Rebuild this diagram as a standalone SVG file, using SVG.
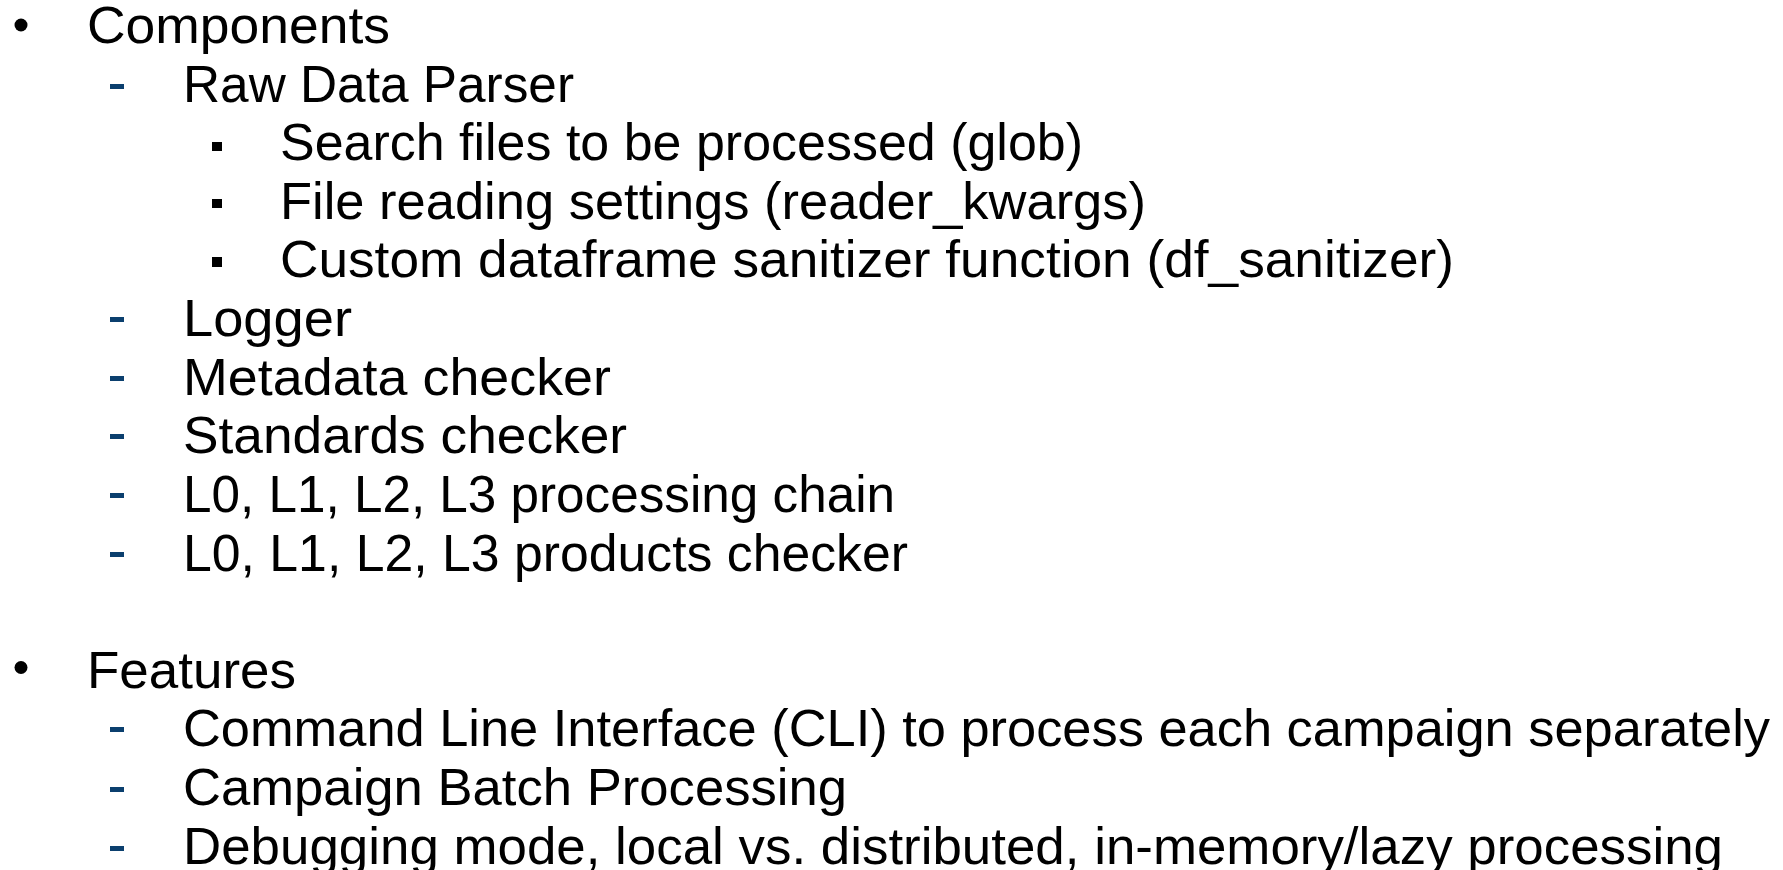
<svg xmlns="http://www.w3.org/2000/svg" width="1783" height="870" viewBox="0 0 1783 870">
<style>
text{font-family:"Liberation Sans","Open Sans",sans-serif;font-size:52px;fill:#000}
.dash{fill:#0b3f6e}
.sq{fill:#000}
</style>
<rect width="1783" height="870" fill="#fff"/>
<g id="components">
<circle cx="21" cy="25" r="6.5"/>
<text x="87" y="43" textLength="303" lengthAdjust="spacingAndGlyphs">Components</text>
</g>
<g id="raw-data-parser">
<rect class="dash" x="110" y="84" width="14" height="5"/>
<text x="183" y="101.5" textLength="391" lengthAdjust="spacingAndGlyphs">Raw Data Parser</text>
</g>
<g id="search-files">
<rect class="sq" x="212" y="142" width="10" height="9"/>
<text x="280" y="160" textLength="803" lengthAdjust="spacingAndGlyphs">Search files to be processed (glob)</text>
</g>
<g id="file-reading">
<rect class="sq" x="212" y="199" width="10" height="9"/>
<text x="280" y="218.5" textLength="866" lengthAdjust="spacingAndGlyphs">File reading settings (reader_kwargs)</text>
</g>
<g id="custom-sanitizer">
<rect class="sq" x="212" y="257" width="10" height="10"/>
<text x="280" y="277" textLength="1174" lengthAdjust="spacingAndGlyphs">Custom dataframe sanitizer function (df_sanitizer)</text>
</g>
<g id="logger">
<rect class="dash" x="110" y="317" width="14" height="5"/>
<text x="183" y="336" textLength="169" lengthAdjust="spacingAndGlyphs">Logger</text>
</g>
<g id="metadata-checker">
<rect class="dash" x="110" y="376" width="14" height="5"/>
<text x="183" y="394.5" textLength="428" lengthAdjust="spacingAndGlyphs">Metadata checker</text>
</g>
<g id="standards-checker">
<rect class="dash" x="110" y="434" width="14" height="5"/>
<text x="183" y="453" textLength="444" lengthAdjust="spacingAndGlyphs">Standards checker</text>
</g>
<g id="processing-chain">
<rect class="dash" x="110" y="493" width="14" height="5"/>
<text x="183" y="512" textLength="712" lengthAdjust="spacingAndGlyphs">L0, L1, L2, L3 processing chain</text>
</g>
<g id="products-checker">
<rect class="dash" x="110" y="552" width="14" height="5"/>
<text x="183" y="570.5" textLength="725" lengthAdjust="spacingAndGlyphs">L0, L1, L2, L3 products checker</text>
</g>
<g id="features">
<circle cx="21" cy="667.5" r="6.5"/>
<text x="87" y="687.5" textLength="209" lengthAdjust="spacingAndGlyphs">Features</text>
</g>
<g id="cli">
<rect class="dash" x="110" y="727" width="14" height="5"/>
<text x="183" y="746" textLength="1587" lengthAdjust="spacingAndGlyphs">Command Line Interface (CLI) to process each campaign separately</text>
</g>
<g id="batch">
<rect class="dash" x="110" y="787" width="14" height="5"/>
<text x="183" y="805" textLength="664" lengthAdjust="spacingAndGlyphs">Campaign Batch Processing</text>
</g>
<g id="debugging">
<rect class="dash" x="110" y="846" width="14" height="5"/>
<text x="183" y="863.5" textLength="1540" lengthAdjust="spacingAndGlyphs">Debugging mode, local vs. distributed, in-memory/lazy processing</text>
</g>
<g id="connectors"></g>
</svg>
